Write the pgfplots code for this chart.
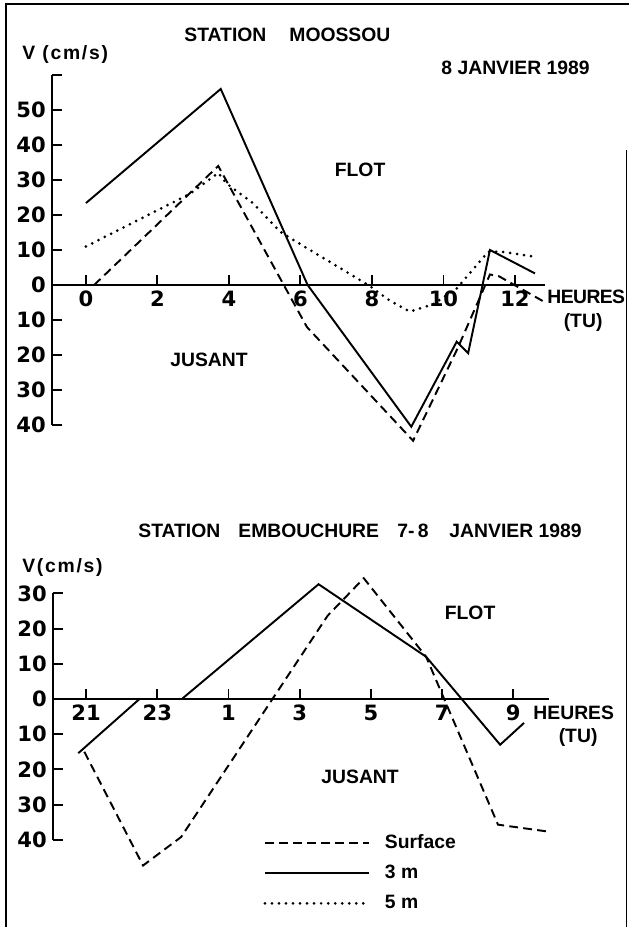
\documentclass[border=0pt]{standalone}
\usepackage{fontspec}
\setmainfont{Liberation Sans}
\newfontfamily\tickfont{DejaVu Sans}
\usepackage{pgfplots}
\pgfplotsset{compat=1.18}

\pgfplotsset{
  tideax/.style={
    anchor=south west,
    axis x line=middle, axis y line=left,
    axis line style={-, line width=1.3pt},
    enlargelimits=false,
    clip=false,
    tick align=inside,
    major tick length=0.2cm,
    tick style={line width=1.1pt, black},
    /pgf/number format/assume math mode=true,
    tick label style={font=\tickfont\bfseries\fontsize{12}{14}\selectfont},
  },
  surf/.style={black, line width=1.1pt, dash pattern=on 5pt off 3pt},
  m3/.style={black, line width=1.1pt},
  m5/.style={black, line width=1.7pt, line cap=round, dash pattern=on 0pt off 4pt},
}
\newcommand{\lab}{\bfseries\fontsize{11}{13}\selectfont}

\begin{document}
\begin{tikzpicture}
\useasboundingbox (0,0) rectangle (12.58cm,18.54cm);

% top: station Moossou
\begin{axis}[tideax,
  at={(1.04cm,10.04cm)},
  x=0.715cm, y=0.07cm,
  xmin=-0.95, xmax=12.84, ymin=-40, ymax=60,
  xtick={0,2,...,12},
  ytick={-40,-30,...,60},
  yticklabels={40,30,20,10,0,10,20,30,40,50,},
]
\addplot[surf] coordinates {
  (0.23,0) (3.7,34) (6.18,-12) (9.15,-44.5) (10.4,-18) (11.3,3) (11.55,2.5) (12.85,-5)
};
\addplot[m3] coordinates {
  (0,23.4) (3.77,56) (6.2,0) (9.1,-40.5) (10.37,-16.2) (10.69,-19.5) (11.3,10) (12.56,3.3)
};
\addplot[m5] coordinates {
  (0,11) (2.9,26) (3.7,32) (3.93,29) (4.68,23.3) (5.43,15.2) (6.1,11) (6.92,6)
  (7.94,-0.3) (8.5,-4.5) (9.06,-7.6) (9.71,-5.5) (10.37,-1) (11.25,9.5) (11.63,9.5) (12.6,8)
};
\end{axis}

% bottom: station Embouchure
\begin{axis}[tideax,
  at={(1.06cm,1.744cm)},
  x=0.712cm, y=0.0704cm,
  xmin=-0.93, xmax=13.0, ymin=-40, ymax=30,
  xtick={0,2,...,12},
  xticklabels={21,23,1,3,5,7,9},
  ytick={-40,-30,...,30},
  yticklabels={40,30,20,10,0,10,20,30},
  legend style={at={(axis cs:4.97,-37.4)}, anchor=north west, draw=none, fill=none,
    font=\lab, row sep=4pt, inner xsep=0pt, inner ysep=0pt},
  legend cell align=left,
  legend image code/.code={\draw[#1] (0cm,0cm) -- (2.08cm,0cm); \path (2.3cm,0cm);},
]
\addplot[surf] coordinates {
  (-0.05,-15) (1.6,-47.3) (2.67,-39.2) (6.78,23.6) (7.8,34.3) (9.55,12) (11.57,-35.7) (12.93,-37.6)
};
\addlegendentry{Surface}
\addplot[m3] coordinates {
  (-0.22,-15.4) (1.5,0) (2.69,0) (6.53,32.6) (9.55,12) (10.55,0) (11.63,-13) (12.3,-6.8)
};
\addlegendentry{3 m}
\addlegendimage{m5}
\addlegendentry{5 m}
\end{axis}

\begin{scope}[x=0.02cm, y=-0.02cm, yshift=18.54cm, every node/.style={font=\lab}]
  % frame
  \draw[line width=1.2pt] (6,927) -- (6,4) -- (629,4);
  \draw[line width=0.6pt] (626,150) -- (626,927);
  % top labels
  \node[anchor=base west, inner sep=0pt] at (184,41.5) {STATION};
  \node[anchor=base west, inner sep=0pt] at (289,41.5) {MOOSSOU};
  \node[anchor=west, inner sep=0pt] at (22,55) {\addfontfeature{LetterSpace=9}V (cm/s)};
  \node[anchor=base west, inner sep=0pt] at (441,74.5) {8 JANVIER 1989};
  \node at (360,170) {FLOT};
  \node at (209,360) {JUSANT};
  \node[anchor=west, inner sep=0pt] at (547,297) {\addfontfeature{LetterSpace=-3}HEURES};
  \node at (583,322) {(TU)};
  % bottom labels
  \node[anchor=base west, inner sep=0pt] at (138,537.5) {STATION};
  \node[anchor=base west, inner sep=0pt] at (238,537.5) {EMBOUCHURE};
  \node[anchor=base west, inner sep=0pt] at (397,537.5) {7-\,8};
  \node[anchor=base west, inner sep=0pt] at (449,537.5) {JANVIER 1989};
  \node[anchor=west, inner sep=0pt] at (22,567) {\addfontfeature{LetterSpace=9}V(cm/s)};
  \node at (470,613) {FLOT};
  \node at (360,777) {JUSANT};
  \node[anchor=west, inner sep=0pt] at (533,713) {HEURES};
  \node at (578,737) {(TU)};
\end{scope}
\end{tikzpicture}
\end{document}
